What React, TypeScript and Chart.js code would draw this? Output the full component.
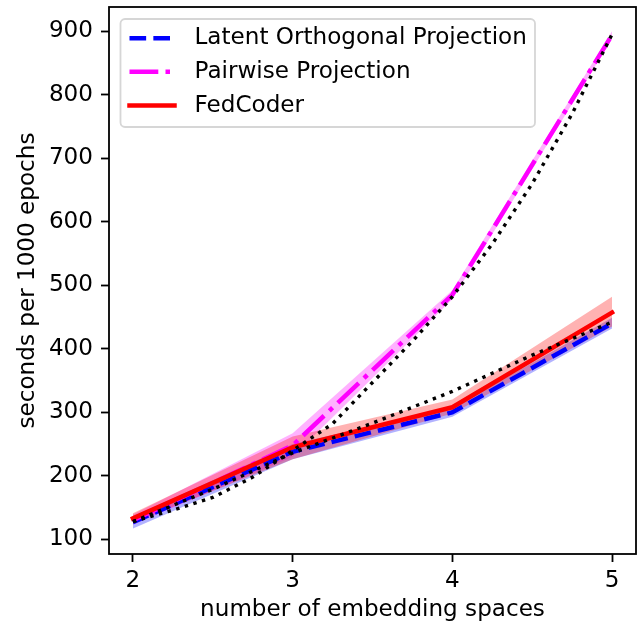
import React, { useEffect, useRef } from 'react';
import { Chart, registerables } from 'chart.js';

Chart.register(...registerables);

const FONT = "'DejaVu Sans', 'Liberation Sans', sans-serif";
const FS = 23.1;

// categories (number of embedding spaces)
const xValues = [2, 3, 4, 5];
const xTickValues = [2, 3, 4, 5];
const yTickValues = [100, 200, 300, 400, 500, 600, 700, 800, 900];

// Latent Orthogonal Projection
const latentMean = [127, 238, 300, 440];
const latentLow = [117, 226, 293, 432];
const latentHigh = [136, 250, 307, 449];

// Pairwise Projection
const pairMean = [130, 248, 485, 894];
const pairLow = [123, 230, 478, 888];
const pairHigh = [139, 267, 492, 900];

// FedCoder
const fedMean = [133, 245, 308, 457];
const fedLow = [126, 226, 298, 435];
const fedHigh = [141, 262, 320, 482];

// dotted fits
const latentFitX = [2, 2.5, 3, 3.5, 4, 4.5, 5];
const latentFitY = [128, 179, 236, 283, 333, 390, 442];
const pairFitX = [2, 2.25, 2.5, 2.75, 3, 3.25, 3.5, 3.75, 4, 4.25, 4.5, 4.75, 5];
const pairFitY = [128, 146, 166, 198, 240, 282, 347, 412, 482, 565, 660, 770, 895];

const legendLabels = ['Latent Orthogonal Projection', 'Pairwise Projection', 'FedCoder'];

const pts = (xs: number[], ys: number[]) => xs.map((x, i) => ({ x, y: ys[i] }));

const BLUE_DASH = [16.65, 7.2];
const MAG_DASH = [28.8, 7.2, 4.5, 7.2];
const DOT_DASH = [3.4, 5.6];

const framePlugin = {
  id: 'frame',
  afterDatasetsDraw(chart: any) {
    const { ctx, chartArea: a } = chart;
    ctx.save();
    ctx.strokeStyle = '#000';
    ctx.lineWidth = 1.8;
    ctx.strokeRect(a.left, a.top, a.right - a.left, a.bottom - a.top);
    ctx.restore();
  },
};

const legendPlugin = {
  id: 'customLegend',
  afterDraw(chart: any) {
    const { ctx } = chart;
    ctx.save();
    const x0 = 120.5, y0 = 19, x1 = 535, y1 = 127, r = 4.5;
    ctx.beginPath();
    ctx.moveTo(x0 + r, y0);
    ctx.lineTo(x1 - r, y0);
    ctx.arcTo(x1, y0, x1, y0 + r, r);
    ctx.lineTo(x1, y1 - r);
    ctx.arcTo(x1, y1, x1 - r, y1, r);
    ctx.lineTo(x0 + r, y1);
    ctx.arcTo(x0, y1, x0, y1 - r, r);
    ctx.lineTo(x0, y0 + r);
    ctx.arcTo(x0, y0, x0 + r, y0, r);
    ctx.closePath();
    ctx.fillStyle = 'rgba(255,255,255,0.8)';
    ctx.fill();
    ctx.strokeStyle = 'rgb(214,214,214)';
    ctx.lineWidth = 1.8;
    ctx.stroke();

    const rows = [38.3, 71.7, 105.5];
    const styles = [
      { color: '#0000ff', dash: BLUE_DASH, cap: 'butt' },
      { color: '#ff00ff', dash: MAG_DASH, cap: 'butt' },
      { color: '#ff0000', dash: [] as number[], cap: 'square' },
    ];
    rows.forEach((y, i) => {
      const s = styles[i];
      ctx.beginPath();
      ctx.setLineDash(s.dash);
      ctx.lineCap = s.cap;
      ctx.strokeStyle = s.color;
      ctx.lineWidth = 4.5;
      ctx.moveTo(129.5, y);
      ctx.lineTo(174.5, y);
      ctx.stroke();
      ctx.setLineDash([]);
      ctx.fillStyle = '#000';
      ctx.font = `${FS}px ${FONT}`;
      ctx.textBaseline = 'middle';
      ctx.textAlign = 'left';
      ctx.fillText(legendLabels[i], 194.5, y);
    });
    ctx.restore();
  },
};

export default function App() {
  const ref = useRef<HTMLCanvasElement>(null);
  useEffect(() => {
    document.body.style.margin = '0';
    const canvas = ref.current!;
    const band = (data: number[], extra: any) => ({
      data: pts(xValues, data),
      borderWidth: 0,
      borderColor: 'rgba(0,0,0,0)',
      pointRadius: 0,
      tension: 0,
      ...extra,
    });
    // bands first (below all lines, as in matplotlib), then lines, then fits
    const datasets: any[] = [
      band(latentLow, { fill: false }),
      band(latentHigh, { fill: { target: 0 }, backgroundColor: 'rgba(0,0,255,0.3)' }),
      band(pairLow, { fill: false }),
      band(pairHigh, { fill: { target: 2 }, backgroundColor: 'rgba(255,0,255,0.3)' }),
      band(fedLow, { fill: false }),
      band(fedHigh, { fill: { target: 4 }, backgroundColor: 'rgba(255,0,0,0.3)' }),
      {
        data: pts(xValues, latentMean), borderColor: '#0000ff', borderWidth: 4.5,
        borderDash: BLUE_DASH, borderCapStyle: 'butt', borderJoinStyle: 'round', pointRadius: 0, fill: false, tension: 0,
      },
      {
        data: pts(xValues, pairMean), borderColor: '#ff00ff', borderWidth: 4.5,
        borderDash: MAG_DASH, borderCapStyle: 'butt', borderJoinStyle: 'round', pointRadius: 0, fill: false, tension: 0,
      },
      {
        data: pts(xValues, fedMean), borderColor: '#ff0000', borderWidth: 4.5,
        borderCapStyle: 'square', borderJoinStyle: 'round', pointRadius: 0, fill: false, tension: 0,
      },
      {
        data: pts(latentFitX, latentFitY), borderColor: '#000', borderWidth: 3.4,
        borderDash: DOT_DASH, borderCapStyle: 'butt', pointRadius: 0, fill: false, tension: 0,
      },
      {
        data: pts(pairFitX, pairFitY), borderColor: '#000', borderWidth: 3.4,
        borderDash: DOT_DASH, borderCapStyle: 'butt', pointRadius: 0, fill: false, tension: 0,
      },
    ];
    datasets.forEach((d, i) => { d.order = 50 - i; });

    const font = { family: FONT, size: FS };
    const chart = new Chart(canvas, {
      type: 'line',
      data: { datasets },
      plugins: [framePlugin, legendPlugin],
      options: {
        animation: false,
        responsive: false,
        devicePixelRatio: 1,
        layout: { padding: { top: 7, right: 5, left: 0, bottom: 0 } },
        plugins: {
          legend: { display: false },
          tooltip: { enabled: false },
          filler: { propagate: false },
        },
        scales: {
          x: {
            type: 'linear',
            min: 1.85,
            max: 5.15,
            afterBuildTicks: (s: any) => { s.ticks = xTickValues.map((v) => ({ value: v })); },
            afterFit: (s: any) => { s.height = 72; s.paddingLeft = 0; s.paddingRight = 0; },
            grid: { display: true, drawOnChartArea: false, drawTicks: true, tickLength: 8, tickWidth: 1.8, tickColor: '#000' },
            border: { display: false },
            ticks: { font, color: '#000', padding: 5, maxRotation: 0, autoSkip: false, callback: (v: any) => String(v) },
            title: { display: true, text: 'number of embedding spaces', font, color: '#000', padding: { top: 0, bottom: 2.5 } },
          },
          y: {
            type: 'linear',
            min: 77,
            max: 938,
            afterBuildTicks: (s: any) => { s.ticks = yTickValues.map((v) => ({ value: v })); },
            afterFit: (s: any) => { s.width = 109; s.paddingTop = 0; s.paddingBottom = 0; },
            grid: { display: true, drawOnChartArea: false, drawTicks: true, tickLength: 8, tickWidth: 1.8, tickColor: '#000' },
            border: { display: false },
            ticks: { font, color: '#000', padding: 8, autoSkip: false, callback: (v: any) => String(v) },
            title: { display: true, text: 'seconds per 1000 epochs', font, color: '#000', padding: { top: 14, bottom: 0 } },
          },
        },
      } as any,
    });
    return () => chart.destroy();
  }, []);
  return <canvas ref={ref} width={641} height={626} style={{ display: 'block', width: 641, height: 626 }} />;
}
